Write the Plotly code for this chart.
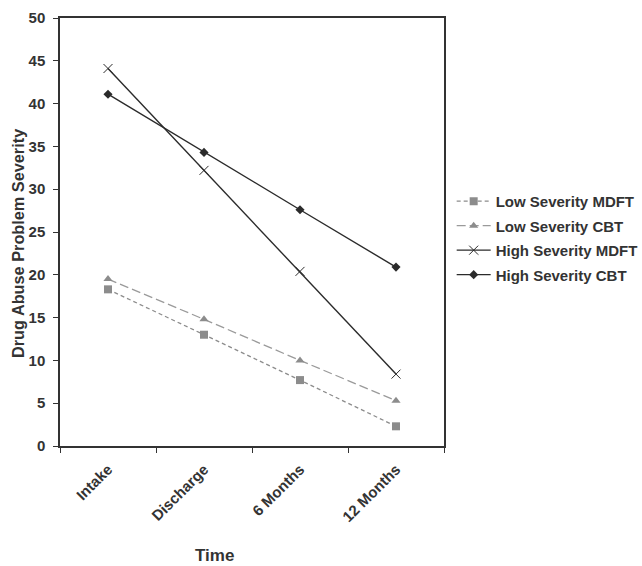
import plotly.graph_objects as go

categories = ["Intake", "Discharge", "6 Months", "12 Months"]
low_mdft = [18.3, 13.0, 7.7, 2.3]
low_cbt = [19.5, 14.8, 10.0, 5.3]
high_mdft = [44.1, 32.2, 20.4, 8.4]
high_cbt = [41.1, 34.3, 27.6, 20.9]
y_ticks = [0, 5, 10, 15, 20, 25, 30, 35, 40, 45, 50]

FONT = "Liberation Sans, Arial, sans-serif"
TXT = "#333333"
fig = go.Figure()
fig.add_trace(go.Scatter(x=categories, y=low_mdft, name="Low Severity MDFT", mode="lines+markers",
                         legendgroup="a",
                         line=dict(color="#8c8c8c", width=1.3, dash="4px,3px"),
                         marker=dict(symbol="square", size=8, color="#8c8c8c")))
fig.add_trace(go.Scatter(x=categories, y=low_cbt, name="Low Severity CBT", mode="lines+markers",
                         legendgroup="b",
                         line=dict(color="#9a9a9a", width=1.3, dash="9px,4px"),
                         marker=dict(symbol="triangle-up", size=8, color="#8c8c8c")))
fig.add_trace(go.Scatter(x=categories, y=high_mdft, name="High Severity MDFT", mode="lines+markers",
                         legendgroup="c",
                         line=dict(color="#2b2b2b", width=1.4),
                         marker=dict(symbol="x-thin-open", size=9, color="#2b2b2b",
                                     line=dict(width=1, color="#2b2b2b"))))
fig.add_trace(go.Scatter(x=categories, y=high_cbt, name="High Severity CBT", mode="lines+markers",
                         legendgroup="d",
                         line=dict(color="#2b2b2b", width=1.4),
                         marker=dict(symbol="diamond", size=7, color="#2b2b2b")))

fig.update_layout(
    width=642, height=566,
    margin=dict(l=60, r=198, t=18, b=120, autoexpand=False),
    paper_bgcolor="white", plot_bgcolor="white",
    font=dict(family=FONT, color=TXT),
    showlegend=True,
    legend=dict(x=1.02, y=0.61, xanchor="left", yanchor="top",
                font=dict(size=15, family=FONT, color=TXT, weight=700),
                itemwidth=34, tracegroupgap=2, bgcolor="rgba(0,0,0,0)"),
    xaxis=dict(type="category", range=[-0.5, 3.5], tickson="boundaries", ticks="outside",
               ticklen=5, tickcolor="#333", showline=True, linecolor="#333", linewidth=1.5,
               mirror=True, showgrid=False, tickangle=-45, automargin=False,
               ticklabelstandoff=7,
               tickfont=dict(size=15, family=FONT, color=TXT, weight=700)),
    yaxis=dict(range=[0, 50], tickvals=y_ticks, ticks="outside", ticklen=5, tickcolor="#333",
               showline=True, linecolor="#333", linewidth=1.5, mirror=True, showgrid=False,
               zeroline=False, automargin=False, ticklabelstandoff=5,
               tickfont=dict(size=15, family=FONT, color=TXT, weight=700)),
    annotations=[
        dict(text="Time", xref="paper", yref="paper", x=(214 - 60) / 384, y=(446 - 555) / 428,
             xanchor="center", yanchor="middle", showarrow=False,
             font=dict(size=17, family=FONT, color=TXT, weight=700)),
        dict(text="Drug Abuse Problem Severity", xref="paper", yref="paper",
             x=(18 - 60) / 384, y=(446 - 244) / 428, textangle=-90,
             xanchor="center", yanchor="middle", showarrow=False,
             font=dict(size=16.3, family=FONT, color=TXT, weight=700)),
    ],
)

fig.write_html("out.html", config={"displayModeBar": False},
               post_script="document.body.style.margin='0';document.body.style.padding='0';")
